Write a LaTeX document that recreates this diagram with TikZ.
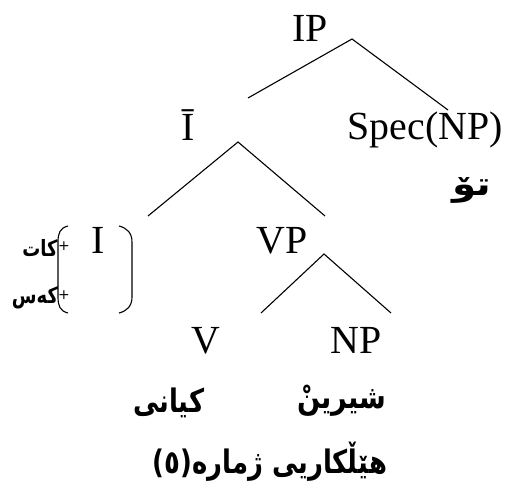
\documentclass[tikz,border=0pt]{standalone}
\usepackage{fontspec}
\setmainfont{Liberation Serif}
\newfontfamily\arabicfont[Script=Arabic]{DejaVu Sans}
\TeXXeTstate=1
\newcommand{\vstretch}[2]{\scalebox{#1}[1.25]{#2}}
\begin{document}
\begin{tikzpicture}[x=1bp,y=-1bp,
  lat/.style={font=\fontsize{40}{44}\selectfont, inner sep=0pt, anchor=base},
  arb/.style={font=\arabicfont\bfseries\fontsize{26}{30}\selectfont, inner sep=0pt},
  arbs/.style={font=\arabicfont\bfseries\fontsize{18}{20}\selectfont, inner sep=0pt},
  plus/.style={font=\arabicfont\fontsize{14}{16}\selectfont, inner sep=0pt},
  edge/.style={line width=1.1bp},
  brk/.style={line width=1.1bp}]
\useasboundingbox (0,0) rectangle (517,495);
% Latin labels
\node[lat] (IP) at (310,42) {IP};
\node[lat] (Ibar) at (188,141) {Ī};
\node[lat] (Spec) at (425,140) {Spec(NP)};
\node[lat] (I) at (98,253) {I};
\node[lat] (VP) at (282,253) {VP};
\node[lat] (V) at (206,353) {V};
\node[lat] (NP) at (356,353) {NP};
% Arabic labels
\node[arb] (tu) at (472,190) {\vstretch{1.5}{\beginR تۆ\endR}};
\node[arb] (kiani) at (169,403) {\vstretch{1}{\beginR كيانى\endR}};
\node[arb] (shirin) at (342,401) {\vstretch{1.05}{\beginR شيرينْ\endR}};
\node[arb] (title) at (270,462) {\vstretch{1}{\beginR هێڵكاريی ژماره(٥)\endR}};
\node[arbs] (kat) at (40,248) {\vstretch{1}{\beginR كات\endR}};
\node[arbs] (kes) at (35,298) {\vstretch{1}{\beginR كەس\endR}};
\node[plus] (p1) at (64,246) {+};
\node[plus] (p2) at (64,295) {+};
% edge endpoints
\coordinate (a0) at (352,39);
\coordinate (a1) at (248,98);
\coordinate (a2) at (448,110);
\coordinate (b0) at (238,142);
\coordinate (b1) at (148,216);
\coordinate (b2) at (325,216);
\coordinate (c0) at (324,254);
\coordinate (c1) at (261,313);
\coordinate (c2) at (391,313);
\draw[edge] (a1) -- (a0) -- (a2);
\draw[edge] (b1) -- (b0) -- (b2);
\draw[edge] (c1) -- (c0) -- (c2);
% brackets
\coordinate (lt) at (68,226);
\coordinate (lb) at (68,313);
\coordinate (rt) at (119,226);
\coordinate (rb) at (119,313);
\draw[brk] (lt) .. controls (60,228) and (58,233) .. (58,242) -- (58,297) .. controls (58,306) and (60,311) .. (lb);
\draw[brk] (rt) .. controls (127,228) and (132,233) .. (132,242) -- (132,297) .. controls (132,306) and (127,311) .. (rb);
\end{tikzpicture}
\end{document}
